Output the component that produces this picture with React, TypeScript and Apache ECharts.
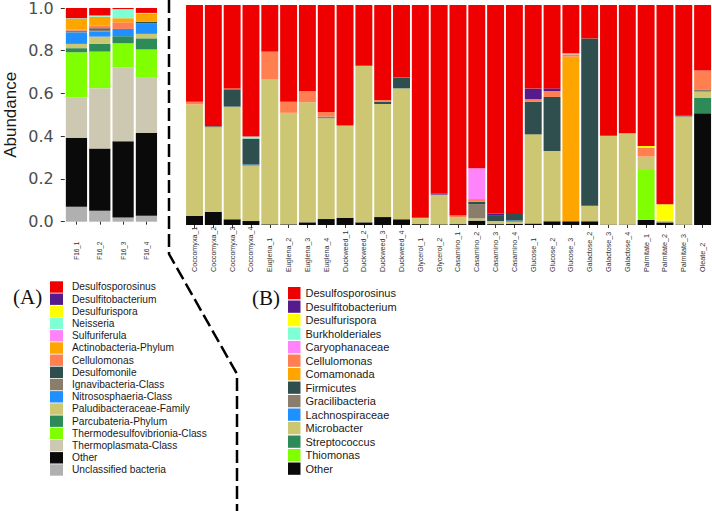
import React, { useEffect, useRef } from "react";
import * as echarts from "echarts";

// ---------- Panel A ----------
const catsA = ["F16_1", "F16_2", "F16_3", "F16_4"];
// legend order (top of stack first)
const namesA = [
  "Desulfosporosinus",
  "Desulfitobacterium",
  "Desulfurispora",
  "Neisseria",
  "Sulfuriferula",
  "Actinobacteria-Phylum",
  "Cellulomonas",
  "Desulfomonile",
  "Ignavibacteria-Class",
  "Nitrososphaeria-Class",
  "Paludibacteraceae-Family",
  "Parcubateria-Phylum",
  "Thermodesulfovibrionia-Class",
  "Thermoplasmata-Class",
  "Other",
  "Unclassified bacteria",
];
const colorsA = [
  "#EE0000", "#551A8B", "#FFFF00", "#7FFFD4", "#FF83FA", "#FFA500", "#FF7F50", "#2F4F4F",
  "#8B7D6B", "#1E90FF", "#CDC673", "#2E8B57", "#7FFF00", "#CDC8B1", "#0A0A0A", "#B0B0B0",
];
const desulfosporosinusA = [0.048, 0.035, 0.005, 0.023];
const desulfitobacteriumA = [0, 0, 0, 0];
const desulfurisporaA = [0, 0, 0, 0];
const neisseriaA = [0.003, 0.006, 0.043, 0.005];
const sulfuriferulaA = [0, 0, 0, 0];
const actinobacteriaA = [0.05, 0.042, 0.019, 0.036];
const cellulomonasA = [0.005, 0.012, 0.031, 0];
const desulfomonileA = [0, 0.007, 0, 0.008];
const ignavibacteriaA = [0.008, 0.008, 0, 0];
const nitrososphaeriaA = [0.054, 0.024, 0.034, 0.049];
const paludibacteraceaeA = [0.02, 0.034, 0, 0.021];
const parcubateriaA = [0.019, 0.036, 0.033, 0.052];
const thermodesulfovibrioniaA = [0.21, 0.171, 0.112, 0.129];
const thermoplasmataA = [0.19, 0.283, 0.347, 0.262];
const otherA = [0.323, 0.291, 0.356, 0.387];
const unclassifiedA = [0.07, 0.051, 0.02, 0.028];
const valuesA = [
  desulfosporosinusA, desulfitobacteriumA, desulfurisporaA, neisseriaA, sulfuriferulaA,
  actinobacteriaA, cellulomonasA, desulfomonileA, ignavibacteriaA, nitrososphaeriaA,
  paludibacteraceaeA, parcubateriaA, thermodesulfovibrioniaA, thermoplasmataA, otherA, unclassifiedA,
];

// ---------- Panel B ----------
const catsB = [
  "Coccomyxa_1", "Coccomyxa_2", "Coccomyxa_3", "Coccomyxa_4",
  "Euglena_1", "Euglena_2", "Euglena_3", "Euglena_4",
  "Duckweed_1", "Duckweed_2", "Duckweed_3", "Duckweed_4",
  "Glycerol_1", "Glycerol_2",
  "Casamino_1", "Casamino_2", "Casamino_3", "Casamino_4",
  "Glucose_1", "Glucose_2", "Glucose_3",
  "Galactose_2", "Galactose_3", "Galactose_4",
  "Palmitate_1", "Palmitate_2", "Palmitate_3",
  "Oleate_2",
];
const namesB = [
  "Desulfosporosinus",
  "Desulfitobacterium",
  "Desulfurispora",
  "Burkholderiales",
  "Caryophanaceae",
  "Cellulomonas",
  "Comamonada",
  "Firmicutes",
  "Gracilibacteria",
  "Lachnospiraceae",
  "Microbacter",
  "Streptococcus",
  "Thiomonas",
  "Other",
];
const colorsB = [
  "#EE0000", "#551A8B", "#FFFF00", "#7FFFD4", "#FF83FA", "#FF7F50", "#FFA500",
  "#2F4F4F", "#8B7D6B", "#1E90FF", "#CDC673", "#2E8B57", "#7FFF00", "#0A0A0A",
];
const desulfosporosinusB = [0.44, 0.55, 0.379, 0.598, 0.212, 0.44, 0.391, 0.486, 0.546, 0.276, 0.432, 0.33, 0.967, 0.856, 0.957, 0.742, 0.949, 0.945, 0.38, 0.379, 0.22, 0.152, 0.594, 0.583, 0.641, 0.906, 0.503, 0.298];
const desulfitobacteriumB = [0, 0, 0, 0, 0, 0, 0, 0, 0, 0, 0, 0, 0, 0.006, 0, 0, 0.006, 0, 0.048, 0.012, 0, 0, 0, 0, 0, 0, 0, 0];
const desulfurisporaB = [0, 0, 0, 0, 0, 0, 0, 0, 0, 0, 0, 0, 0, 0, 0, 0, 0, 0, 0, 0, 0, 0, 0, 0, 0.007, 0.074, 0, 0];
const burkholderialesB = [0, 0, 0, 0.009, 0, 0, 0, 0, 0, 0, 0, 0, 0, 0, 0, 0, 0, 0, 0, 0, 0.004, 0, 0, 0, 0, 0, 0, 0];
const caryophanaceaeB = [0, 0, 0, 0, 0, 0, 0, 0, 0, 0, 0, 0, 0, 0, 0, 0.14, 0, 0, 0, 0, 0, 0, 0, 0, 0, 0, 0, 0];
const cellulomonasB = [0.012, 0, 0.004, 0, 0.126, 0.05, 0.051, 0.021, 0, 0, 0.007, 0, 0, 0, 0.007, 0.012, 0, 0, 0.012, 0.027, 0.011, 0, 0, 0, 0.041, 0, 0, 0.088];
const comamonadaB = [0, 0, 0, 0, 0, 0, 0, 0, 0, 0, 0, 0, 0, 0, 0, 0, 0, 0, 0, 0, 0.748, 0, 0, 0, 0, 0, 0, 0];
const firmicutesB = [0, 0, 0.079, 0.118, 0, 0, 0, 0, 0, 0, 0.011, 0.049, 0, 0, 0, 0.011, 0.027, 0.034, 0.148, 0.246, 0, 0.76, 0, 0, 0, 0, 0, 0];
const gracilibacteriaB = [0, 0.006, 0, 0, 0, 0, 0, 0.008, 0.004, 0, 0, 0, 0, 0, 0, 0.065, 0, 0, 0, 0, 0, 0, 0, 0, 0, 0, 0.005, 0.008];
const lachnospiraceaeB = [0, 0, 0, 0.005, 0, 0, 0, 0, 0, 0, 0, 0, 0, 0, 0, 0, 0, 0.006, 0, 0, 0, 0, 0, 0, 0, 0, 0, 0];
const microbacterB = [0.507, 0.384, 0.512, 0.252, 0.659, 0.507, 0.546, 0.458, 0.417, 0.712, 0.514, 0.595, 0.029, 0.135, 0.032, 0.01, 0.014, 0.011, 0.405, 0.319, 0, 0.071, 0.404, 0.415, 0.061, 0.008, 0.49, 0.027];
const streptococcusB = [0, 0, 0, 0, 0, 0, 0, 0, 0, 0, 0, 0, 0, 0, 0, 0, 0, 0, 0, 0, 0, 0, 0, 0, 0, 0, 0, 0.071];
const thiomonasB = [0, 0, 0, 0, 0, 0, 0, 0, 0, 0, 0, 0, 0, 0, 0, 0, 0, 0, 0, 0, 0, 0, 0, 0, 0.227, 0, 0, 0];
const otherB = [0.041, 0.06, 0.026, 0.018, 0.003, 0.003, 0.012, 0.027, 0.033, 0.012, 0.036, 0.026, 0.004, 0.003, 0.004, 0.02, 0.004, 0.004, 0.007, 0.017, 0.017, 0.017, 0.002, 0.002, 0.023, 0.012, 0.002, 0.508];
const valuesB = [
  desulfosporosinusB, desulfitobacteriumB, desulfurisporaB, burkholderialesB, caryophanaceaeB,
  cellulomonasB, comamonadaB, firmicutesB, gracilibacteriaB, lachnospiraceaeB, microbacterB,
  streptococcusB, thiomonasB, otherB,
];

const yTicks = [0, 0.2, 0.4, 0.6, 0.8, 1.0];

export default function App() {
  const ref = useRef<HTMLDivElement>(null);
  useEffect(() => {
    document.body.style.margin = "0";
    const chart = echarts.init(ref.current!, undefined, { renderer: "svg" });

    const seriesA: any[] = [];
    for (let i = namesA.length - 1; i >= 0; i--) {
      seriesA.push({
        type: "bar",
        name: namesA[i],
        stack: "A",
        xAxisIndex: 0,
        yAxisIndex: 0,
        barCategoryGap: "9%",
        itemStyle: { color: colorsA[i] },
        data: valuesA[i],
      });
    }
    const seriesB: any[] = [];
    for (let i = namesB.length - 1; i >= 0; i--) {
      seriesB.push({
        type: "bar",
        name: namesB[i],
        stack: "B",
        xAxisIndex: 1,
        yAxisIndex: 1,
        barCategoryGap: "10%",
        itemStyle: { color: colorsB[i] },
        data: valuesB[i],
      });
    }

    const legendCommon = {
      orient: "vertical",
      icon: "rect",
      selectedMode: false,
      padding: 0,
      align: "left",
    };
    const labelFont = "'Liberation Sans', Arial, sans-serif";

    chart.setOption({
      animation: false,
      backgroundColor: "#fff",
      grid: [
        { left: 64.8, top: 7.3, width: 93.3, height: 214.4 },
        { left: 185.1, top: 5, width: 527.3, height: 220 },
      ],
      xAxis: [
        {
          type: "category",
          gridIndex: 0,
          data: catsA,
          z: 5,
          axisLine: { show: false },
          axisTick: { show: true, alignWithLabel: true, length: 3, lineStyle: { color: "#333" } },
          axisLabel: {
            rotate: 90,
            align: "left",
            margin: 38,
            fontSize: 6.4,
            color: "#333",
            fontFamily: labelFont,
            width: 120,
            overflow: "none",
          },
        },
        {
          type: "category",
          gridIndex: 1,
          data: catsB,
          z: 5,
          axisLine: { show: false },
          axisTick: { show: true, alignWithLabel: true, length: 3, lineStyle: { color: "#333" } },
          axisLabel: {
            interval: 0,
            rotate: 90,
            align: "left",
            margin: 47,
            fontSize: 7.2,
            color: "#333",
            fontFamily: labelFont,
            width: 120,
            overflow: "none",
            hideOverlap: false,
          },
        },
      ],
      yAxis: [
        {
          type: "value",
          gridIndex: 0,
          min: 0,
          max: 1,
          interval: 0.2,
          name: "Abundance",
          nameLocation: "middle",
          nameGap: 46,
          nameTextStyle: { fontSize: 17, color: "#1a1a1a", fontFamily: labelFont },
          splitLine: { show: false },
          axisLine: { show: false },
          axisTick: { show: true, length: 4, lineStyle: { color: "#333" } },
          axisLabel: {
            margin: 11,
            fontSize: 16,
            color: "#4D4D4D",
            fontFamily: "'DejaVu Sans', sans-serif",
            formatter: (v: number) => (yTicks.includes(v) ? v.toFixed(1) : ""),
          },
        },
        {
          type: "value",
          gridIndex: 1,
          min: 0,
          max: 1,
          show: false,
          splitLine: { show: false },
        },
      ],
      legend: [
        {
          ...legendCommon,
          left: 50,
          top: 281.3,
          itemWidth: 13,
          itemHeight: 11.4,
          itemGap: 0.8,
          data: namesA,
          textStyle: {
            fontSize: 10.2,
            lineHeight: 11.4,
            color: "#1a1a1a",
            fontFamily: labelFont,
            padding: [0, 0, 0, 4],
          },
        },
        {
          ...legendCommon,
          left: 288,
          top: 287,
          itemWidth: 12.5,
          itemHeight: 12.3,
          itemGap: 1.2,
          data: namesB,
          textStyle: {
            fontSize: 11,
            lineHeight: 12.3,
            color: "#1a1a1a",
            fontFamily: labelFont,
          },
        },
      ],
      graphic: [
        {
          type: "polyline",
          shape: { points: [[169, 0], [169, 254], [237, 374], [237, 511]] },
          style: { stroke: "#000", lineWidth: 2.5, lineDash: [13, 5], fill: null },
          silent: true,
        },
        {
          type: "text",
          left: 13,
          top: 286,
          style: { text: "(A)", fontSize: 21, fill: "#111", fontFamily: "'Liberation Serif', 'Times New Roman', serif" },
        },
        {
          type: "text",
          left: 252,
          top: 287,
          style: { text: "(B)", fontSize: 21, fill: "#111", fontFamily: "'Liberation Serif', 'Times New Roman', serif" },
        },
      ],
      series: [...seriesA, ...seriesB],
    });
    return () => chart.dispose();
  }, []);
  return <div ref={ref} style={{ width: 712, height: 511 }} />;
}
